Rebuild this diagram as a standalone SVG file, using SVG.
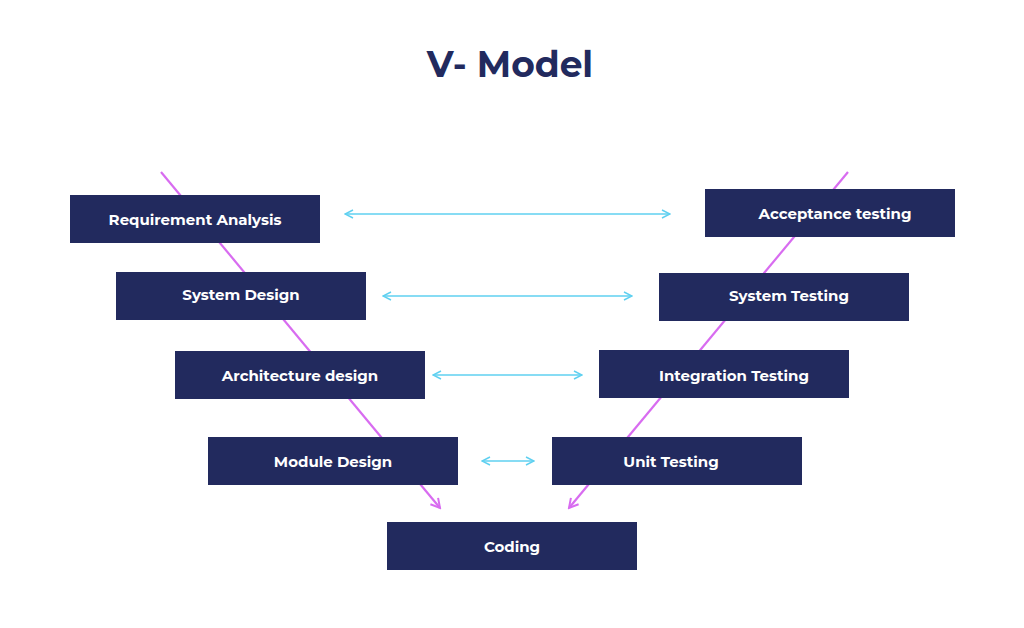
<svg xmlns="http://www.w3.org/2000/svg" width="1024" height="628" viewBox="0 0 1024 628">
<defs>
<style>
.box{fill:#222a5e}
.t{font-family:"Montserrat","Inter","Liberation Sans",sans-serif;font-weight:700;font-size:15px;fill:#fff;text-anchor:middle;dominant-baseline:central}
.v{stroke:#d86cf0;stroke-width:2.2;fill:none}
.c{stroke:#5fd0f0;stroke-width:1.6;fill:none}
</style>
<marker id="ap" viewBox="0 0 12 12" refX="10" refY="6" markerWidth="12" markerHeight="12" markerUnits="userSpaceOnUse" orient="auto"><path d="M1,1 L10,6 L1,11" stroke="#d86cf0" stroke-width="2" fill="none"/></marker>
<marker id="ac" viewBox="0 0 10 10" refX="9" refY="5" markerWidth="10" markerHeight="10" markerUnits="userSpaceOnUse" orient="auto-start-reverse"><path d="M1,1 L9,5 L1,9" stroke="#5fd0f0" stroke-width="1.5" fill="none"/></marker>
</defs>
<rect width="1024" height="628" fill="#fff"/>
<text x="510" y="64" font-family="Montserrat,Inter,'Liberation Sans',sans-serif" font-weight="700" font-size="36" fill="#222a5e" text-anchor="middle" dominant-baseline="central">V- Model</text>
<g id="connectors">
<line class="v" x1="161" y1="172" x2="440" y2="508" marker-end="url(#ap)"/>
<line class="v" x1="848" y1="172" x2="569" y2="508" marker-end="url(#ap)"/>
<line class="c" x1="345" y1="214" x2="670" y2="214" marker-start="url(#ac)" marker-end="url(#ac)"/>
<line class="c" x1="383" y1="296" x2="632" y2="296" marker-start="url(#ac)" marker-end="url(#ac)"/>
<line class="c" x1="433" y1="375" x2="582" y2="375" marker-start="url(#ac)" marker-end="url(#ac)"/>
<line class="c" x1="482" y1="461" x2="534" y2="461" marker-start="url(#ac)" marker-end="url(#ac)"/>
</g>
<g id="req"><rect class="box" x="70" y="195" width="250" height="48"/><text class="t" x="195" y="219">Requirement Analysis</text></g>
<g id="sysd"><rect class="box" x="116" y="272" width="250" height="48"/><text class="t" x="241" y="294">System Design</text></g>
<g id="arch"><rect class="box" x="175" y="351" width="250" height="48"/><text class="t" x="300" y="375">Architecture design</text></g>
<g id="mod"><rect class="box" x="208" y="437" width="250" height="48"/><text class="t" x="333" y="461">Module Design</text></g>
<g id="coding"><rect class="box" x="387" y="522" width="250" height="48"/><text class="t" x="512" y="546">Coding</text></g>
<g id="acc"><rect class="box" x="705" y="189" width="250" height="48"/><text class="t" x="835" y="213">Acceptance testing</text></g>
<g id="syst"><rect class="box" x="659" y="273" width="250" height="48"/><text class="t" x="789" y="295">System Testing</text></g>
<g id="integ"><rect class="box" x="599" y="350" width="250" height="48"/><text class="t" x="734" y="375">Integration Testing</text></g>
<g id="unit"><rect class="box" x="552" y="437" width="250" height="48"/><text class="t" x="671" y="461">Unit Testing</text></g>
</svg>
